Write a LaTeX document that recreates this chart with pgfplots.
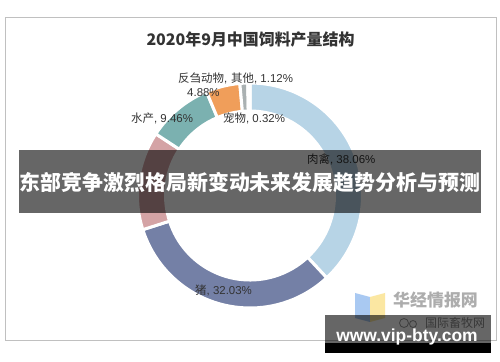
\documentclass[border=0pt]{standalone}
\usepackage{pgfplots}
\pgfplotsset{compat=1.18}
\usepackage{pgfplotstable}
\usepackage{fontspec}
\setmainfont{Liberation Sans}
\newfontfamily\cjk{Noto Sans CJK SC}
\definecolor{seg0}{HTML}{B7D4E6}
\definecolor{seg1}{HTML}{7480A6}
\definecolor{seg2}{HTML}{D4A3A5}
\definecolor{seg3}{HTML}{7BB1B0}
\definecolor{seg4}{HTML}{F09E5A}
\definecolor{seg5}{HTML}{AAB1B2}
\definecolor{seg6}{HTML}{C5D8E0}
\definecolor{labtxt}{HTML}{333333}
\definecolor{titletxt}{HTML}{333333}
\definecolor{framec}{HTML}{C0C0C0}
\definecolor{logoblue}{HTML}{A9C9F2}
\definecolor{logoyellow}{HTML}{FBE7A2}
% shares of feed output, Sept 2020 (%), clockwise from 12 o'clock:
% 肉禽, 猪, 蛋禽, 水产, 反刍动物, 其他, 宠物
\pgfplotstableread{
val
38.06
32.03
14.13
9.46
4.88
1.12
0.32
}\shares
\begin{document}
\begin{tikzpicture}
\useasboundingbox (0,0) rectangle (500bp,362bp);
\fill[white] (0,0) rectangle (500bp,362bp);
\xdef\cum{90}%
\foreach \i in {0,...,6}{%
  \pgfplotstablegetelem{\i}{val}\of\shares
  \pgfmathsetmacro\en{\cum-3.6*\pgfplotsretval}%
  \expandafter\xdef\csname segS\i\endcsname{\cum}%
  \expandafter\xdef\csname segE\i\endcsname{\en}%
  \xdef\cum{\en}%
}%
\begin{axis}[at={(0,0)}, anchor=south west, scale only axis,
  width=500bp, height=362bp, xmin=0, xmax=500, ymin=0, ymax=362,
  hide axis, clip=false]
% frame
\draw[framec, line width=1bp] (axis cs:5,21) rectangle (axis cs:496,344);
% title
\node[titletxt, font=\cjk\bfseries\fontsize{16}{18}\selectfont] at (axis cs:250.5,322) {2020年9月中国饲料产量结构};
% donut
\pgfplotsinvokeforeach{0,...,6}{
  \fill[seg#1, draw=white, line width=3bp] (axis cs:250,166.5) ++(\csname segS#1\endcsname:112.5bp)
    arc[start angle=\csname segS#1\endcsname, end angle=\csname segE#1\endcsname, radius=112.5bp]
    -- ++(\csname segE#1\endcsname:-28bp)
    arc[start angle=\csname segE#1\endcsname, end angle=\csname segS#1\endcsname, radius=84.5bp]
    -- cycle;
}
% labels
\begin{scope}[every node/.style={labtxt, font=\fontsize{11.5}{13}\selectfont, inner sep=0pt, anchor=west}]
\node at (axis cs:178,284) {{\cjk 反刍动物},\hspace{4bp}{\cjk 其他}, 1.12\%};
\node at (axis cs:187,269) {4.88\%};
\node at (axis cs:131,244) {{\cjk 水产}, 9.46\%};
\node at (axis cs:223,244) {{\cjk 宠物}, 0.32\%};
\node at (axis cs:307,203) {{\cjk 肉禽}, 38.06\%};
\node at (axis cs:195,72) {{\cjk 猪}, 32.03\%};
\end{scope}
% banner overlay
\fill[black, opacity=0.6] (axis cs:19,149) rectangle (axis cs:481,212);
\node[white, font=\cjk\bfseries\fontsize{21}{24}\selectfont, inner sep=0pt] at (axis cs:250,179.5) {东部竞争激烈格局新变动未来发展趋势分析与预测};
% watermark logo
\fill[logoblue] (axis cs:355,69) -- (axis cs:370,65) -- (axis cs:370,40) -- (axis cs:355,44) -- cycle;
\fill[logoyellow] (axis cs:370,65) -- (axis cs:385,69) -- (axis cs:385,44) -- (axis cs:370,40) -- cycle;
\node[text=black!32, font=\cjk\bfseries\fontsize{17}{19}\selectfont, inner sep=0pt, anchor=west] at (axis cs:393,62) {华经情报网};
\node[text=black!45, font=\cjk\fontsize{12}{14}\selectfont, inner sep=0pt, anchor=west] at (axis cs:425,39) {国际畜牧网};
\draw[black!40, line width=0.8bp] (axis cs:404,39) circle[radius=4.5bp];
\draw[black!40, line width=0.8bp] (axis cs:413,38) circle[radius=3.5bp];
\fill[black, opacity=0.6] (axis cs:325,19) rectangle (axis cs:491,47);
\fill[black] (axis cs:325,9) rectangle (axis cs:491,19);
\node[white, font=\bfseries\fontsize{17.5}{19}\selectfont, inner sep=0pt] at (axis cs:407,25) {www.vip-bty.com};
\end{axis}
\end{tikzpicture}
\end{document}
